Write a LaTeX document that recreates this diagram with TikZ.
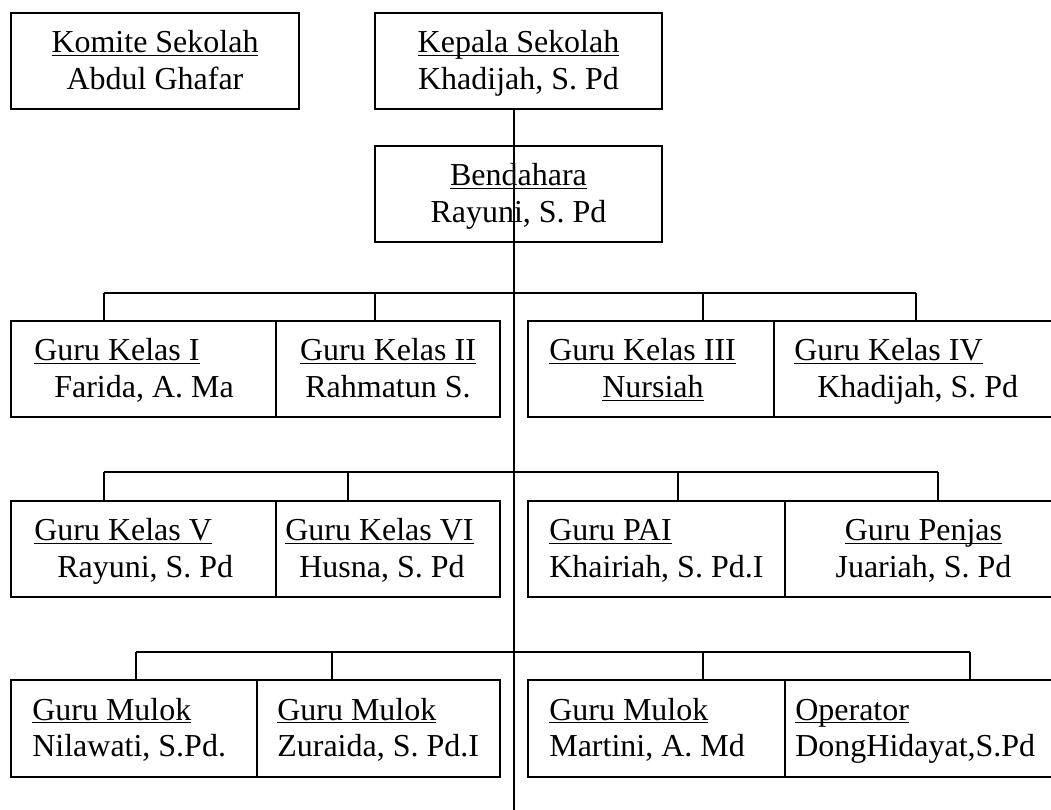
\documentclass[tikz,border=0pt]{standalone}
\usepackage{fontspec}
\setmainfont{Liberation Serif}
\newcommand{\gbawah}[1]{\rule{0pt}{0.56cm}\underline{\raisebox{0pt}[\height][0pt]{#1}}}
\newcommand{\kaki}{\rule[-0.16cm]{0pt}{0.16cm}}

\begin{document}
\begin{tikzpicture}[x=0.02cm, y=-0.02cm, font=\fontsize{18.2}{21}\selectfont,
    kotak/.style={draw, rectangle, line width=1.1pt, inner sep=0, minimum height=1.92cm, align=center},
    teks/.style={anchor=west, align=left, inner sep=0},
    garis/.style={line width=0.9pt}]
    \useasboundingbox (0,0) rectangle (1051,810);
    \clip (0,0) rectangle (1051,810);

    \node[kotak, minimum width=5.76cm] (komite) at (155,61) {\gbawah{Komite Sekolah}\\Abdul Ghafar\kaki};
    \node[kotak, minimum width=5.74cm] (kepala) at (518.5,61) {\gbawah{Kepala Sekolah}\\Khadijah, S. Pd\kaki};
    \node[kotak, minimum width=5.74cm] (bendahara) at (518.5,194) {\gbawah{Bendahara}\\Rayuni, S. Pd\kaki};

    \node[kotak, minimum width=5.3cm] (gk1) at (143.5,369) {};
    \node[kotak, minimum width=4.48cm] (gk2) at (388,369) {\gbawah{Guru Kelas II}\\Rahmatun S.\kaki};
    \node[kotak, minimum width=4.92cm] (gk3) at (651,369) {};
    \node[kotak, minimum width=5.76cm] (gk4) at (918,369) {};
    \node[teks] (tgk1) at (34,369) {\gbawah{Guru Kelas I}\\\hspace*{0.4cm}Farida, A. Ma\kaki};
    \node[teks] (tgk3) at (549,369) {\gbawah{Guru Kelas III}\\\hspace*{1.06cm}\gbawah{Nursiah}\kaki};
    \node[teks] (tgk4) at (794,369) {\gbawah{Guru Kelas IV}\\\hspace*{0.46cm}Khadijah, S. Pd\kaki};

    \node[kotak, minimum width=5.3cm] (gk5) at (143.5,549) {};
    \node[kotak, minimum width=4.48cm] (gk6) at (388,549) {};
    \node[kotak, minimum width=5.14cm] (pai) at (656.5,549) {};
    \node[kotak, minimum width=5.54cm] (penjas) at (923.5,549) {\gbawah{Guru Penjas}\\Juariah, S. Pd\kaki};
    \node[teks] (tgk5) at (34,549) {\gbawah{Guru Kelas V}\\\hspace*{0.46cm}Rayuni, S. Pd\kaki};
    \node[teks] (tgk6) at (285,549) {\gbawah{Guru Kelas VI}\\\hspace*{0.28cm}Husna, S. Pd\kaki};
    \node[teks] (tpai) at (549,549) {\gbawah{Guru PAI}\\Khairiah, S. Pd.I\kaki};

    \node[kotak, minimum width=4.92cm, minimum height=1.94cm] (mulok1) at (134,728.5) {};
    \node[kotak, minimum width=4.86cm, minimum height=1.94cm] (mulok2) at (378.5,728.5) {};
    \node[kotak, minimum width=5.14cm, minimum height=1.94cm] (mulok3) at (656.5,728.5) {};
    \node[kotak, minimum width=5.54cm, minimum height=1.94cm] (operator) at (923.5,728.5) {};
    \node[teks] (tmulok1) at (32,728.5) {\gbawah{Guru Mulok}\\Nilawati, S.Pd.\kaki};
    \node[teks] (tmulok2) at (277,728.5) {\gbawah{Guru Mulok}\\Zuraida, S. Pd.I\kaki};
    \node[teks] (tmulok3) at (549,728.5) {\gbawah{Guru Mulok}\\Martini, A. Md\kaki};
    \node[teks] (toperator) at (795,728.5) {\gbawah{Operator}\\DongHidayat,S.Pd\kaki};

    \coordinate (ujung) at (514,810);
    \coordinate (a1) at (104,293);
    \coordinate (a2) at (375,293);
    \coordinate (a3) at (703,293);
    \coordinate (a4) at (916,293);
    \coordinate (b1) at (104,472);
    \coordinate (b2) at (348,472);
    \coordinate (b3) at (678,472);
    \coordinate (b4) at (938,472);
    \coordinate (c1) at (136,652);
    \coordinate (c2) at (332,652);
    \coordinate (c3) at (703,652);
    \coordinate (c4) at (970,652);

    \draw[garis] (kepala.south -| ujung) -- (ujung);

    \draw[garis] (a1) -- (a4);
    \draw[garis] (a1) -- (a1 |- gk1.north);
    \draw[garis] (a2) -- (a2 |- gk2.north);
    \draw[garis] (a3) -- (a3 |- gk3.north);
    \draw[garis] (a4) -- (a4 |- gk4.north);

    \draw[garis] (b1) -- (b4);
    \draw[garis] (b1) -- (b1 |- gk5.north);
    \draw[garis] (b2) -- (b2 |- gk6.north);
    \draw[garis] (b3) -- (b3 |- pai.north);
    \draw[garis] (b4) -- (b4 |- penjas.north);

    \draw[garis] (c1) -- (c4);
    \draw[garis] (c1) -- (c1 |- mulok1.north);
    \draw[garis] (c2) -- (c2 |- mulok2.north);
    \draw[garis] (c3) -- (c3 |- mulok3.north);
    \draw[garis] (c4) -- (c4 |- operator.north);

\end{tikzpicture}
\end{document}
